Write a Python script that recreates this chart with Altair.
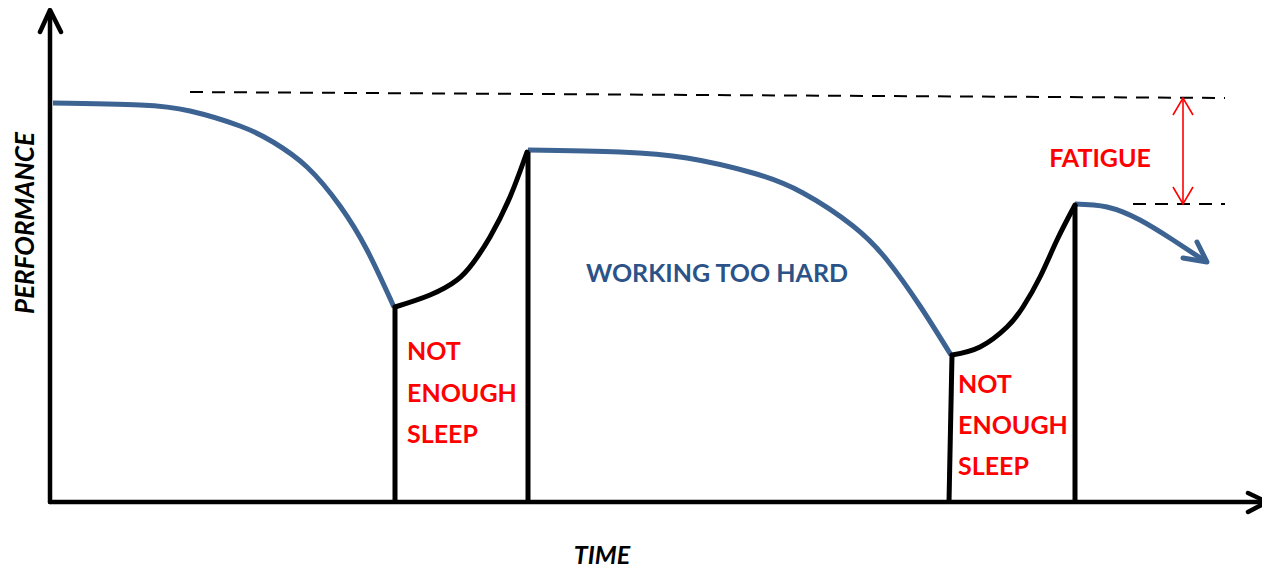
import altair as alt
import pandas as pd

# ---- values (time, performance units) ----
# blue "working" curves
work1_t = [3, 90, 140, 190, 223, 257, 290, 317, 344]
work1_p = [399, 397, 391, 376, 360, 335, 296, 252, 195]
work2_t = [478, 570, 637, 703, 753, 803, 837, 870, 901]
work2_p = [352, 350, 344, 329, 309, 276, 242, 196, 147]
work3_t = [1025, 1057, 1090, 1123, 1155]
work3_p = [298, 295, 282, 262, 241]
work3_head_t = [1133, 1157, 1147]
work3_head_p = [244, 240, 260]

# black "sleep" recovery curves
rec1_t = [345, 380, 407, 423, 440, 460, 477]
rec1_p = [195, 207, 222, 239, 265, 305, 350]
rec2_t = [902, 930, 957, 973, 990, 1007, 1025]
rec2_p = [147, 155, 175, 195, 225, 262, 297]

# vertical boundaries of the sleep periods
v1_t, v1_p = [345, 345], [0, 195]
v2_t, v2_p = [478, 478], [0, 350]
v3_t, v3_p = [899, 902], [0, 147]
v4_t, v4_p = [1025, 1025], [0, 297]

# axes with arrow heads
yaxis_t, yaxis_p = [0, 0], [0, 490]
yhead_t, yhead_p = [-10, 0, 11], [470, 492, 470]
xaxis_t, xaxis_p = [0, 1216], [0, 0]
xhead_t, xhead_p = [1198, 1217, 1198], [9, 0, -10]

# dashed reference levels
dash1_t, dash1_p = [140, 1175], [410, 404]
dash2_t, dash2_p = [1083, 1175], [298, 298]

# red fatigue double arrow
fat_t, fat_p = [1133, 1133], [404, 298]
fat_top_t, fat_top_p = [1123, 1133, 1143], [387, 404, 387]
fat_bot_t, fat_bot_p = [1123, 1133, 1143], [315, 298, 315]

# labels
red_labels = ["NOT", "ENOUGH", "SLEEP", "NOT", "ENOUGH", "SLEEP", "FATIGUE"]
red_t = [357, 357, 357, 908, 908, 908, 1050]
red_p = [142, 100, 59, 109, 68, 27, 335]
red_align = ["left"] * 6 + ["center"]


def seg(name, ts, ps):
    return [{"g": name, "i": k, "t": t, "p": p} for k, (t, p) in enumerate(zip(ts, ps))]


X = alt.X("t:Q", scale=alt.Scale(domain=[-42, 1212], nice=False, zero=False), axis=None)
Y = alt.Y("p:Q", scale=alt.Scale(domain=[-68, 494], nice=False, zero=False), axis=None)

blue_curves = pd.DataFrame(seg("w1", work1_t, work1_p) + seg("w2", work2_t, work2_p)
                           + seg("w3", work3_t, work3_p))
blue_head = pd.DataFrame(seg("h", work3_head_t, work3_head_p))
black_curves = pd.DataFrame(seg("r1", rec1_t, rec1_p) + seg("r2", rec2_t, rec2_p))
black_lines = pd.DataFrame(seg("v1", v1_t, v1_p) + seg("v2", v2_t, v2_p)
                           + seg("v3", v3_t, v3_p) + seg("v4", v4_t, v4_p))
axes = pd.DataFrame(seg("ya", yaxis_t, yaxis_p) + seg("yh", yhead_t, yhead_p)
                    + seg("xa", xaxis_t, xaxis_p) + seg("xh", xhead_t, xhead_p))
dashes = pd.DataFrame(seg("d1", dash1_t, dash1_p) + seg("d2", dash2_t, dash2_p))
red_arrow = pd.DataFrame(seg("f", fat_t, fat_p) + seg("ft", fat_top_t, fat_top_p)
                         + seg("fb", fat_bot_t, fat_bot_p))

BLUE = "#3c6392"
enc = dict(x=X, y=Y, detail="g:N", order="i:Q")

l_axes = alt.Chart(axes).mark_line(color="black", strokeWidth=4.5, strokeCap="round",
                                   strokeJoin="round").encode(**enc)
l_black_v = alt.Chart(black_lines).mark_line(color="black", strokeWidth=5).encode(**enc)
l_black_c = alt.Chart(black_curves).mark_line(color="black", strokeWidth=5, interpolate="natural",
                                              strokeCap="round").encode(**enc)
l_blue = alt.Chart(blue_curves).mark_line(color=BLUE, strokeWidth=5, interpolate="natural").encode(**enc)
l_blue_head = alt.Chart(blue_head).mark_line(color=BLUE, strokeWidth=5, strokeCap="round",
                                             strokeJoin="round").encode(**enc)
l_dash = alt.Chart(dashes).mark_line(color="black", strokeWidth=2, strokeDash=[13, 9]).encode(**enc)
l_red = alt.Chart(red_arrow).mark_line(color="#ff0000", strokeWidth=1.6).encode(**enc)

red_df = pd.DataFrame({"text": red_labels, "t": red_t, "p": red_p, "a": red_align})
l_red_left = alt.Chart(red_df[red_df.a == "left"]).mark_text(
    color="#ff0000", font="Lato", fontWeight="bold", fontSize=25, align="left", baseline="alphabetic"
).encode(x=X, y=Y, text="text:N")
l_red_center = alt.Chart(red_df[red_df.a == "center"]).mark_text(
    color="#ff0000", font="Lato", fontWeight="bold", fontSize=25, align="center", baseline="alphabetic"
).encode(x=X, y=Y, text="text:N")

work_df = pd.DataFrame({"text": ["WORKING TOO HARD"], "t": [667], "p": [220]})
l_work = alt.Chart(work_df).mark_text(
    color="#2c5388", font="Lato", fontWeight="bold", fontSize=25, align="center", baseline="alphabetic"
).encode(x=X, y=Y, text="text:N")

time_df = pd.DataFrame({"text": ["TIME"], "t": [552], "p": [-62]})
l_time = alt.Chart(time_df).mark_text(
    color="black", font="Lato", fontWeight="bold", fontStyle="italic", fontSize=25,
    align="center", baseline="alphabetic"
).encode(x=X, y=Y, text="text:N")

perf_df = pd.DataFrame({"text": ["PERFORMANCE"], "t": [-16], "p": [279]})
l_perf = alt.Chart(perf_df).mark_text(
    color="black", font="Lato", fontWeight="bold", fontStyle="italic", fontSize=26,
    align="center", baseline="alphabetic", angle=270
).encode(x=X, y=Y, text="text:N")

chart = alt.layer(
    l_dash, l_red, l_blue, l_blue_head, l_black_c, l_black_v, l_axes,
    l_red_left, l_red_center, l_work, l_time, l_perf
).properties(
    width=1254, height=562, padding=0, background="white",
    autosize=alt.AutoSizeParams(type="none")
).configure_view(stroke=None)

chart.save("out.html", embed_options={"renderer": "svg", "actions": False})
